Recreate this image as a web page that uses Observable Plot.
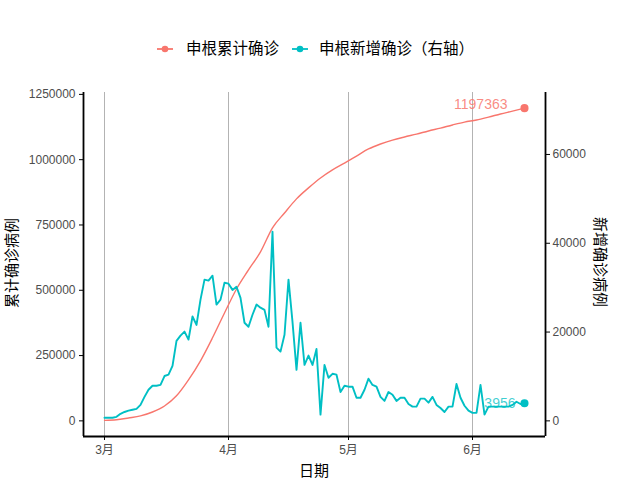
<!DOCTYPE html>
<html><head><meta charset="utf-8">
<script src="https://cdn.jsdelivr.net/npm/d3@7"></script>
<script src="https://cdn.jsdelivr.net/npm/@observablehq/plot@0.6"></script>
<style>
body{margin:0;background:#fff;}
#wrap{position:relative;width:640px;height:480px;font-family:"Liberation Sans","Noto Sans CJK SC",sans-serif;}
.t{position:absolute;color:#000;white-space:nowrap;line-height:1;}
</style></head><body><div id="wrap"></div>
<script>
const startDate = "2020-03-01";
const dailyNew = [
  700, 700, 700, 900, 1600, 2000, 2300, 2500, 2700, 3600,
  5400, 7000, 7900, 7900, 8100, 10100, 10400, 12400, 18000, 19200,
  20100, 18300, 23500, 21600, 27300, 31800, 31600, 32700, 26200, 27300,
  31100, 30900, 29500, 30200, 27700, 22100, 21200, 23900, 26200, 25500,
  25000, 21200, 42600, 16500, 15600, 19400, 31800, 22300, 11500, 22100,
  12600, 14700, 12600, 16200, 1400, 12600, 9700, 10600, 10400, 6500,
  7900, 7700, 7700, 5200, 5200, 7000, 9500, 8100, 7700, 5400,
  4500, 6500, 5900, 4500, 5200, 5200, 3800, 3200, 3200, 5000,
  5000, 4100, 5400, 3600, 2900, 2000, 3200, 3200, 8300, 5200,
  3400, 2300, 1800, 1800, 8100, 1400, 3200, 3200, 3200, 3200,
  3200, 3200, 3600, 4300, 3800, 3956
];
const cumDayOffsets = [0, 3, 6, 9, 12, 15, 18, 21, 24, 27, 30, 33, 36, 39, 42, 45, 48, 51, 54, 57, 60, 63, 66, 69, 72, 75, 78, 81, 84, 87, 90, 93, 96, 99, 102, 105];
const cumTotals = [2000, 4000, 11000, 19000, 34000, 57000, 96000, 157000, 230000, 318000, 413000, 505000, 578000, 647000, 739000, 796000, 850000, 892000, 930000, 961000, 987000, 1014000, 1041000, 1060000, 1075000, 1087000, 1098000, 1110000, 1121000, 1133000, 1144000, 1152000, 1163000, 1175000, 1186000, 1197363];
const seriesNames = ["申根累计确诊", "申根新增确诊（右轴）"];
const seriesColors = ["#F8766D", "#00BFC4"];
const leftTicks = [0, 250000, 500000, 750000, 1000000, 1250000];
const rightTicks = [0, 20000, 40000, 60000];
const monthTicks = ["2020-03-01", "2020-04-01", "2020-05-01", "2020-06-01"];
const secondaryFactor = 17;

const start = new Date(startDate + "T00:00:00Z");
const dayDate = i => d3.utcDay.offset(start, i);
const daily = dailyNew.map((v, i) => ({date: dayDate(i), v, s: v * secondaryFactor}));
const cum = cumDayOffsets.map((o, i) => ({date: dayDate(o), v: cumTotals[i]}));
const lastDaily = daily[daily.length - 1];
const lastCum = cum[cum.length - 1];
const months = monthTicks.map(s => new Date(s + "T00:00:00Z"));

const span = 105 * 0.05;
const xDomain = [d3.utcHour.offset(start, -span * 24), d3.utcHour.offset(dayDate(105), span * 24)];
const yMax = d3.max(cumTotals), yMin = 0;
const yDomain = [yMin - (yMax - yMin) * 0.05, yMax + (yMax - yMin) * 0.05];

const chart = Plot.plot({
  width: 640, height: 480,
  marginTop: 92, marginBottom: 44, marginLeft: 83, marginRight: 95,
  style: {fontFamily: '"Liberation Sans","Noto Sans CJK SC",sans-serif', fontSize: "12px", background: "#fff"},
  x: {type: "utc", domain: xDomain},
  y: {domain: yDomain},
  marks: [
    Plot.gridX(months, {stroke: "#b3b3b3", strokeOpacity: 1, strokeWidth: 1}),
    Plot.line(cum, {x: "date", y: "v", stroke: seriesColors[0], strokeWidth: 1.4, curve: "monotone-x"}),
    Plot.line(daily, {x: "date", y: "s", stroke: seriesColors[1], strokeWidth: 1.9}),
    Plot.dot([lastCum], {x: "date", y: "v", r: 3.3, fill: seriesColors[0], stroke: seriesColors[0]}),
    Plot.dot([lastDaily], {x: "date", y: "s", r: 3.3, fill: seriesColors[1], stroke: seriesColors[1]}),
    Plot.text([lastCum], {x: "date", y: "v", text: d => String(d.v), textAnchor: "end", dx: -17, dy: -4, fill: seriesColors[0], fillOpacity: 0.85, fontSize: 14}),
    Plot.text([lastDaily], {x: "date", y: "s", text: d => String(d.v), textAnchor: "end", dx: -9, dy: 0, fill: seriesColors[1], fillOpacity: 0.75, fontSize: 14}),
    Plot.ruleX([xDomain[0], xDomain[1]], {stroke: "#000", strokeWidth: 1.8}),
    Plot.ruleY([yDomain[0]], {stroke: "#000", strokeWidth: 1.8}),
    Plot.axisX(months, {tickFormat: d => (d.getUTCMonth() + 1) + "月", tickSize: 4, tickPadding: 5, stroke: "#000", fill: "#4d4d4d", label: null, fontSize: 12}),
    Plot.axisY(leftTicks, {anchor: "left", tickFormat: d => String(d), tickSize: 4, tickPadding: 4, stroke: "#000", fill: "#4d4d4d", label: null, fontSize: 12}),
    Plot.axisY(rightTicks.map(v => v * secondaryFactor), {anchor: "right", tickFormat: d => String(Math.round(d / secondaryFactor)), tickSize: 4, tickPadding: 3, stroke: "#000", fill: "#4d4d4d", label: null, fontSize: 12})
  ]
});

const wrap = document.getElementById("wrap");
wrap.appendChild(chart);
chart.style.position = "absolute"; chart.style.left = "0"; chart.style.top = "0";

function addText(txt, css) {
  const d = document.createElement("div");
  d.className = "t"; d.textContent = txt;
  Object.assign(d.style, css);
  wrap.appendChild(d);
  return d;
}
function addKey(color, left) {
  const s = document.createElementNS("http://www.w3.org/2000/svg", "svg");
  s.setAttribute("width", 18); s.setAttribute("height", 14);
  s.style.position = "absolute"; s.style.left = left + "px"; s.style.top = "42px";
  s.innerHTML = `<line x1="1" x2="17" y1="7" y2="7" stroke="${color}" stroke-width="1.8"/><circle cx="9" cy="7" r="3.3" fill="${color}"/>`;
  wrap.appendChild(s);
}
addKey(seriesColors[0], 156);
addText(seriesNames[0], {left: "186px", top: "41px", fontSize: "15.5px"});
addKey(seriesColors[1], 291);
addText(seriesNames[1], {left: "319px", top: "41px", fontSize: "15.5px"});
addText("日期", {left: "314px", top: "463px", fontSize: "15px", transform: "translateX(-50%)"});
addText("累计确诊病例", {left: "11px", top: "263px", fontSize: "15px", transform: "translate(-50%,-50%) rotate(-90deg)"});
addText("新增确诊病例", {left: "600px", top: "262px", fontSize: "15px", transform: "translate(-50%,-50%) rotate(90deg)"});
</script></body></html>
